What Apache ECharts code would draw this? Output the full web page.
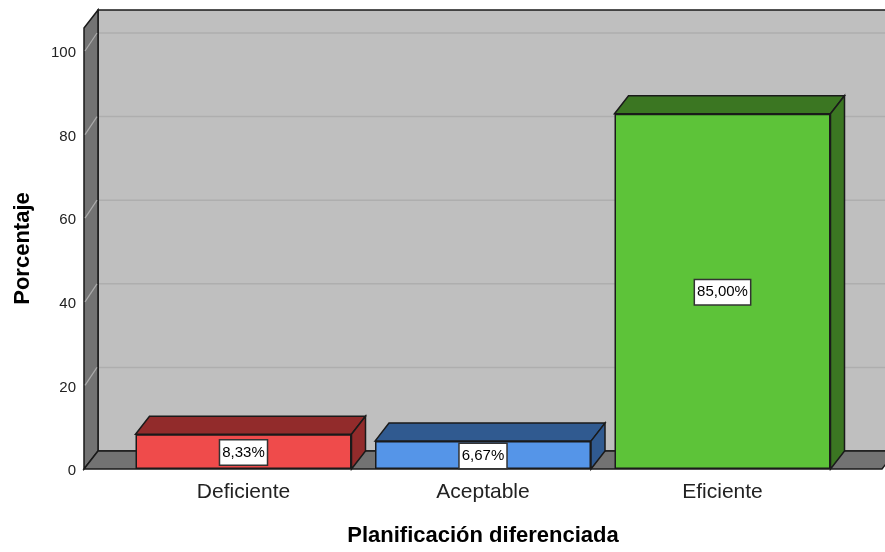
<!DOCTYPE html>
<html>
<head>
<meta charset="utf-8">
<style>html,body{margin:0;padding:0;background:#fff}#c{width:885px;height:552px}</style>
<script src="https://cdn.jsdelivr.net/npm/echarts@6/dist/echarts.min.js"></script>
</head>
<body>
<div id="c"></div>
<script>
const categories = ['Deficiente', 'Aceptable', 'Eficiente'];
const values = [8.33, 6.67, 85.0];
const valueLabels = ['8,33%', '6,67%', '85,00%'];
const yTicks = [0, 20, 40, 60, 80, 100];
const frontColors = ['#EF4B4B', '#5595E8', '#5DC339'];
const depthColors = ['#922B2B', '#305A90', '#3B7622'];

const FONT = '"Liberation Sans", Arial, sans-serif';
const DX = 14, DY = 18, BAR_W = 216, LINE = '#1a1a1a';
const FRONT_L = 84, FRONT_R = 882;

const chart = echarts.init(document.getElementById('c'), null, {renderer: 'canvas'});

function poly(points, fill, stroke, lineWidth) {
  return {type: 'polygon', shape: {points}, style: {fill, stroke: stroke || 'none', lineWidth: lineWidth || 1}};
}
function seg(x1, y1, x2, y2, stroke, lineWidth) {
  return {type: 'line', shape: {x1, y1, x2, y2}, style: {stroke, lineWidth: lineWidth || 1, fill: null}};
}

function renderWalls(params, api) {
  const cs = params.coordSys;
  const y0 = api.coord([0, 0])[1];
  const top = cs.y;
  const kids = [];
  kids.push(poly([[FRONT_L + DX, top - DY], [FRONT_R + DX, top - DY], [FRONT_R + DX, y0 - DY], [FRONT_L + DX, y0 - DY]], '#BFBFBF', LINE, 1.5));
  kids.push(poly([[FRONT_L, top], [FRONT_L + DX, top - DY], [FRONT_L + DX, y0 - DY], [FRONT_L, y0]], '#737373', LINE, 1.5));
  kids.push(poly([[FRONT_L, y0], [FRONT_L + DX, y0 - DY], [FRONT_R + DX, y0 - DY], [FRONT_R, y0]], '#737373', LINE, 1.5));
  yTicks.slice(1).forEach(function (t) {
    const y = api.coord([0, t])[1];
    kids.push(seg(FRONT_L + DX + 1, y - DY, FRONT_R + DX, y - DY, '#AEAEAE', 1.5));
    kids.push(seg(FRONT_L + 1, y, FRONT_L + DX - 1, y - DY, '#ABABAB', 1.2));
  });
  return {type: 'group', children: kids};
}

function renderDepth(params, api) {
  const i = api.value(0);
  const c = api.coord([i, api.value(1)]);
  const y0 = api.coord([i, 0])[1];
  const l = c[0] - BAR_W / 2, r = c[0] + BAR_W / 2, t = c[1];
  return {type: 'group', children: [
    poly([[l, t], [l + DX, t - DY], [r + DX, t - DY], [r, t]], depthColors[i], LINE, 1.5),
    poly([[r, t], [r + DX, t - DY], [r + DX, y0 - DY], [r, y0]], depthColors[i], LINE, 1.5)
  ]};
}

chart.setOption({
  animation: false,
  backgroundColor: '#fff',
  grid: {left: 123.75, top: 28, width: 718.5, height: 441, containLabel: false, outerBoundsMode: 'none'},
  xAxis: {
    type: 'category',
    data: categories,
    axisLine: {show: false},
    axisTick: {show: false},
    axisLabel: {color: '#222', fontFamily: FONT, fontSize: 21, margin: 13},
    name: 'Planificación diferenciada',
    nameLocation: 'middle',
    nameGap: 56,
    nameTextStyle: {color: '#000', fontFamily: FONT, fontWeight: 'bold', fontSize: 22}
  },
  yAxis: {
    type: 'value',
    min: 0,
    max: 105.5,
    interval: 20,
    offset: 39.75,
    splitLine: {show: false},
    axisLine: {show: false},
    axisTick: {show: false},
    axisLabel: {
      color: '#222', fontFamily: FONT, fontSize: 15, margin: 8, showMaxLabel: false,
      formatter: '{a|{value}}',
      rich: {a: {color: '#222', fontFamily: FONT, fontSize: 15, padding: [4, 0, 0, 0]}}
    },
    name: 'Porcentaje',
    nameLocation: 'middle',
    nameGap: 50,
    nameTextStyle: {color: '#000', fontFamily: FONT, fontWeight: 'bold', fontSize: 22}
  },
  series: [
    {type: 'custom', z: 1, silent: true, data: [[0, 0]], renderItem: renderWalls},
    {type: 'custom', z: 2, silent: true, data: values.map(function (v, i) { return [i, v]; }),
      encode: {x: 0, y: 1}, renderItem: renderDepth},
    {
      type: 'bar',
      z: 3,
      barWidth: BAR_W,
      data: values.map(function (v, i) {
        return {
          value: v,
          itemStyle: {color: frontColors[i], borderColor: LINE, borderWidth: 1.5},
          label: {formatter: valueLabels[i]}
        };
      }),
      label: {
        show: true,
        position: 'inside',
        offset: [0, 1],
        color: '#000',
        fontFamily: FONT,
        fontSize: 15,
        backgroundColor: '#fff',
        borderColor: '#333',
        borderWidth: 1.5,
        padding: [5, 2, 4, 2]
      }
    }
  ]
});
</script>
</body>
</html>
